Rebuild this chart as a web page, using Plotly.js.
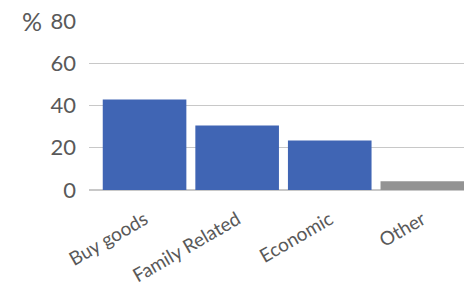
<!DOCTYPE html>
<html><head><meta charset="utf-8">
<script src="https://cdn.plot.ly/plotly-3.0.1.min.js"></script>
<style>html,body{margin:0;padding:0;background:#fff}#c{width:464px;height:287px}</style>
</head><body><div id="c"></div>
<script>
const categories = ["Buy goods", "Family Related", "Economic", "Other"];
const values = [42.8, 30.5, 23.4, 4.1];
const colors = ["#4065b4", "#4065b4", "#4065b4", "#939393"];
const yTicks = [0, 20, 40, 60, 80];

Plotly.newPlot("c", [{
  type: "bar", x: categories, y: values,
  marker: {color: colors}, hoverinfo: "none"
}], {
  width: 464, height: 287,
  margin: {l: 89, r: 0, t: 21, b: 97},
  paper_bgcolor: "#fff", plot_bgcolor: "#fff",
  bargap: 0.097,
  font: {family: "Lato, sans-serif", color: "#595959"},
  xaxis: {range: [-0.6, 3.45], tickangle: -30, tickfont: {size: 19, color: "#595959"},
          showgrid: false, showline: false, ticks: "", ticklabelstandoff: 14},
  yaxis: {range: [0, 80], tickvals: yTicks, tickfont: {size: 22, color: "#595959"},
          gridcolor: "#c8c8c8", gridwidth: 1.2, zeroline: true, zerolinecolor: "#c8c8c8",
          zerolinewidth: 1.2, showline: false, ticks: "", ticklen: 0, automargin: false,
          ticklabelstandoff: 12},
  annotations: [{text: "%", xref: "paper", yref: "y", x: 0, y: 80, xanchor: "right",
    xshift: -45, yanchor: "middle", showarrow: false, font: {size: 25, color: "#595959"}}],
  showlegend: false
}, {staticPlot: true});
</script></body></html>
